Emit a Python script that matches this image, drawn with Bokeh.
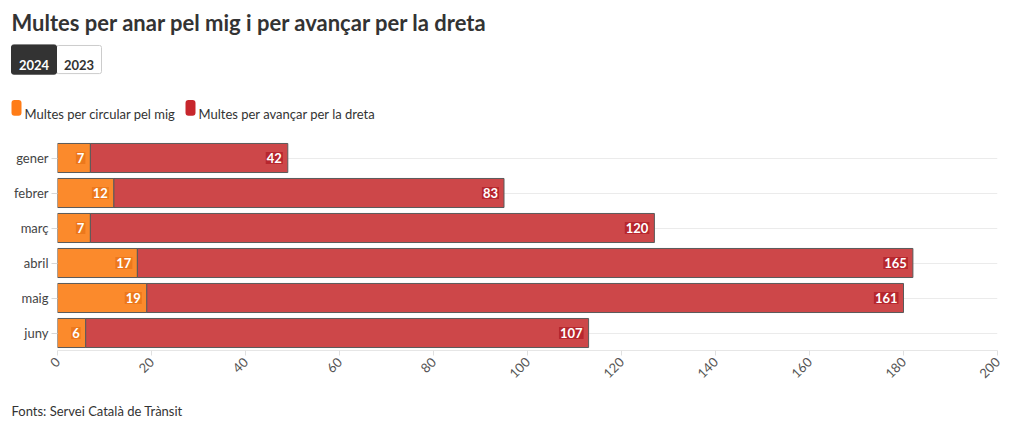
from math import pi
from bokeh.plotting import figure
from bokeh.layouts import column
from bokeh.models import FactorRange, Range1d, FixedTicker, ColumnDataSource
from bokeh.core.properties import value
from bokeh.embed import file_html
from bokeh.resources import INLINE

months = ["gener", "febrer", "març", "abril", "maig", "juny"]
mig = [7, 12, 7, 17, 19, 6]
dreta = [42, 83, 120, 165, 161, 107]
x_ticks = [0, 20, 40, 60, 80, 100, 120, 140, 160, 180, 200]
series_names = ["Multes per circular pel mig", "Multes per avançar per la dreta"]
title_text = "Multes per anar pel mig i per avançar per la dreta"
source_text = "Fonts: Servei Català de Trànsit"
buttons = ["2024", "2023"]

FONT = "Lato"
ORANGE = "#fb8a2c"
RED = "#cd4749"

W = 1020
HEAD_H = 140
MAIN_H = 250
FOOT_H = 41
FL, FR = 57, 997
INSET_T, INSET_B = 12.5, 3.0   # frame insets observed for axis-less figures


def blank(h, y0):
    f = figure(width=W, height=h, output_backend="svg", toolbar_location=None,
               x_range=Range1d(0, W),
               y_range=Range1d(y0 + h - INSET_B, y0 + INSET_T),
               x_axis_type=None, y_axis_type=None,
               min_border=0, min_border_left=0, min_border_right=0,
               min_border_top=0, min_border_bottom=0)
    f.title = None
    f.grid.visible = False
    f.outline_line_color = None
    return f


def txt(f, s, x, y, size, color="#333333", bold=False, align="left"):
    f.text(x=[x], y=[y], text=[s], text_font=value(FONT), text_font_size=size,
           text_font_style="bold" if bold else "normal", text_color=color,
           text_align=align, text_baseline="alphabetic")


# ---------- header ----------
head = blank(HEAD_H, 0)
txt(head, title_text, 11, 32, "22px", bold=True)
head.quad(left=[56], right=[101], top=[52.5], bottom=[77.5], fill_color="white",
          line_color="#cccccc", line_width=1, border_radius=2)
head.quad(left=[11], right=[56], top=[52], bottom=[78], fill_color="#333333",
          line_color="#333333", line_width=1, border_radius=2)
txt(head, buttons[0], 33.5, 70, "13px", color="white", bold=True, align="center")
txt(head, buttons[1], 78.5, 70, "13px", color="#333333", bold=True, align="center")
head.quad(left=[11], right=[21], top=[101], bottom=[115], fill_color="#ff7c17",
          line_color=None, border_radius=3)
txt(head, series_names[0], 24, 113, "13px")
head.quad(left=[185], right=[195], top=[101], bottom=[115], fill_color="#c7262c",
          line_color=None, border_radius=3)
txt(head, series_names[1], 198, 113, "13px")

# ---------- main chart ----------
p = figure(width=W, height=MAIN_H, output_backend="svg", toolbar_location=None,
           y_range=FactorRange(*reversed(months)), x_range=Range1d(0, 200),
           min_border_left=FL, min_border_right=W - FR, min_border_top=0,
           min_border_bottom=MAIN_H - 210)
p.outline_line_color = None

total = [a + b for a, b in zip(mig, dreta)]
src = ColumnDataSource(dict(month=months, mig=mig, dreta=dreta, total=total,
                            zero=[0] * len(months),
                            mig_t=[str(v) for v in mig],
                            dreta_t=[str(v) for v in dreta]))

p.hbar(y="month", left="zero", right="mig", height=0.83, source=src,
       fill_color=ORANGE, line_color="#5a5a5a", line_width=1)
p.hbar(y="month", left="mig", right="total", height=0.83, source=src,
       fill_color=RED, line_color="#5a5a5a", line_width=1)

p.text(x="mig", y="month", text="mig_t", source=src, x_offset=-5,
       text_align="right", text_baseline="middle", text_color="white",
       text_font=value(FONT), text_font_style="bold", text_font_size="13px",
       background_fill_color="#e26d12", background_fill_alpha=0.6, padding=1)
p.text(x="total", y="month", text="dreta_t", source=src, x_offset=-5,
       text_align="right", text_baseline="middle", text_color="white",
       text_font=value(FONT), text_font_style="bold", text_font_size="13px",
       background_fill_color="#a8121c", background_fill_alpha=0.6, padding=1)

p.xaxis.ticker = FixedTicker(ticks=x_ticks)
p.xaxis.major_label_orientation = pi / 4
p.xaxis.axis_line_color = "#e6e6e6"
p.xaxis.major_tick_line_color = "#e0e0e0"
p.xaxis.major_tick_out = 5
p.xaxis.major_tick_in = 0
p.xaxis.minor_tick_line_color = None
p.xaxis.major_label_text_font = FONT
p.xaxis.major_label_text_font_size = "13px"
p.xaxis.major_label_text_color = "#555555"
p.xaxis.major_label_standoff = 4

p.yaxis.axis_line_color = None
p.yaxis.major_tick_line_color = "#d8d8d8"
p.yaxis.major_tick_out = 6
p.yaxis.major_tick_in = 0
p.yaxis.major_label_text_font = FONT
p.yaxis.major_label_text_font_size = "13px"
p.yaxis.major_label_text_color = "#444444"
p.yaxis.major_label_standoff = 3

p.xgrid.grid_line_color = None
p.ygrid.grid_line_color = "#ebebeb"

# ---------- footer ----------
foot = blank(FOOT_H, HEAD_H + MAIN_H)
txt(foot, source_text, 11, 415, "13px")

for f in (head, p, foot):
    try:
        f.frame_align = False
    except Exception:
        pass

layout = column(head, p, foot, spacing=0)
open("out.html", "w").write(file_html(layout, INLINE))
